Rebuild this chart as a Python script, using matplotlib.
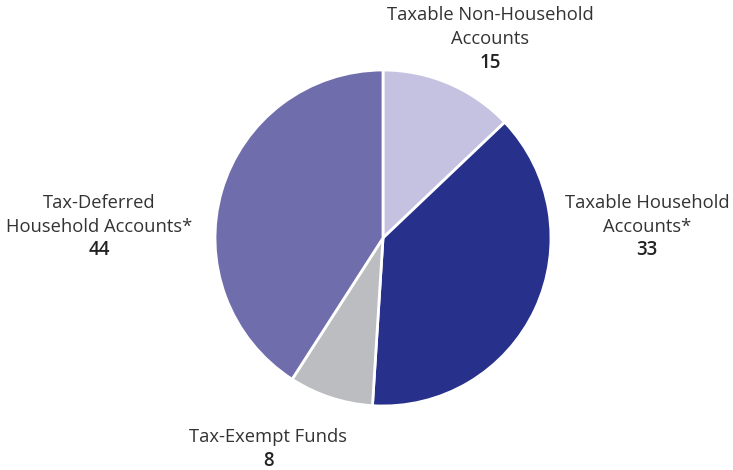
import matplotlib
matplotlib.use("Agg")
import matplotlib.pyplot as plt

categories = ["Taxable Non-Household\nAccounts", "Taxable Household\nAccounts*",
              "Tax-Exempt Funds", "Tax-Deferred\nHousehold Accounts*"]
value_labels = ["15", "33", "8", "44"]
# slice shares as drawn in the picture (percent of the circle)
shares = [12.9, 38.1, 8.1, 40.9]
colors = ["#c4c2e0", "#27308a", "#bcbdc1", "#6f6dab"]

plt.rcParams['font.family'] = ['Open Sans', 'DejaVu Sans']

W, H = 733, 470
fig = plt.figure(figsize=(W / 100, H / 100), dpi=100)
ax = fig.add_axes([0, 0, 1, 1])
ax.set_xlim(0, W)
ax.set_ylim(0, H)
ax.set_aspect('equal')
ax.axis('off')

ax.pie(shares, colors=colors, startangle=90, counterclock=False,
       center=(383, H - 238), radius=168,
       wedgeprops=dict(edgecolor='white', linewidth=2))
ax.set_xlim(0, W)
ax.set_ylim(0, H)

# label positions (pixels from top-left): center x, name line centers, number line
label_pos = [(490, [15, 39], 63), (647, [203, 227], 250),
             (268, [437], 461), (99, [203, 227], 250)]
for name, val, (x, ylines, yval) in zip(categories, value_labels, label_pos):
    for line, yl in zip(name.split("\n"), ylines):
        ax.text(x, H - yl, line, ha='center', va='center', fontsize=13.2,
                color='#333333')
    ax.text(x, H - yval, val, ha='center', va='center', fontsize=13.5,
            color='#222222', fontweight='semibold')

fig.savefig("out.png", dpi=100, facecolor='white')
